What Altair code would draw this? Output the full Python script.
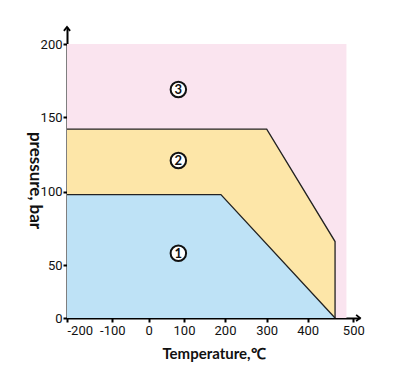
import altair as alt
import pandas as pd

# Region boundaries
r1_x = [-200, 190, 460]
r1_y = [98, 98, 0]
r2_x = [-200, 300, 460]
r2_y = [142, 142, 66]
upper_x = [-200, 300, 460, 460]
upper_y = [142, 142, 66, 0]
lower_x = [-200, 190, 460]
lower_y = [98, 98, 0]
r3_x = [-200, 485]
r3_y = [200, 200]
label_txt = ["1", "2", "3"]
label_x = [84, 84, 84]
label_y = [58, 121, 169]
x_ticks = [-200, -100, 0, 100, 200, 300, 400, 500]
y_ticks = [0, 50, 100, 150, 200]

# the printed axes are not evenly spaced; piecewise scales follow the tick marks
xs = alt.Scale(domain=[-200, -100, 0, 100, 200, 300, 400, 500, 525],
               range=[0, 45.3, 81.7, 117, 158, 199.7, 240.7, 286.3, 293], nice=False, zero=False)
ys = alt.Scale(domain=[0, 50, 100, 150, 200, 210],
               range=[291, 238, 164.7, 90.3, 17, 0], nice=False, zero=False)

LF = "Liberation Sans Narrow, Roboto, sans-serif"
TF = "Lato, Open Sans, sans-serif"

xax = alt.Axis(values=x_ticks, grid=False, domainColor="black", domainWidth=2,
               tickColor="black", tickWidth=2, tickSize=4, labelFont=LF,
               labelFontSize=13, labelColor="#111", labelPadding=2,
               labelExpr="'' + datum.value",
               title="Temperature,℃", titleFont=TF, titleFontSize=15,
               titleFontWeight="bold", titleColor="#111", titlePadding=9)
yax = alt.Axis(values=y_ticks, grid=False, domainColor="black", domainWidth=2,
               tickColor="black", tickWidth=2, tickSize=4, labelFont=LF,
               labelFontSize=13, labelColor="#111", labelPadding=1,
               title="pressure, bar", titleFont=TF, titleFontSize=17,
               titleFontWeight="bold", titleColor="#111", titleAngle=90,
               titleX=-33, titleY=153, titleAlign="center", titleBaseline="middle")

d3 = pd.DataFrame({"x": r3_x, "y": r3_y})
pink = alt.Chart(d3).mark_area(color="#fae4ef", opacity=1).encode(
    x=alt.X("x:Q", scale=xs, axis=xax), y=alt.Y("y:Q", scale=ys, axis=yax), y2=alt.datum(0))

d2 = pd.DataFrame({"x": r2_x, "y": r2_y})
yellow = alt.Chart(d2).mark_area(color="#fde6a8", opacity=1).encode(
    x=alt.X("x:Q", scale=xs), y=alt.Y("y:Q", scale=ys), y2=alt.datum(0))

d1 = pd.DataFrame({"x": r1_x, "y": r1_y})
blue = alt.Chart(d1).mark_area(color="#bee2f6", opacity=1).encode(
    x=alt.X("x:Q", scale=xs), y=alt.Y("y:Q", scale=ys), y2=alt.datum(0))

du = pd.DataFrame({"x": upper_x, "y": upper_y, "o": list(range(len(upper_x)))})
uline = alt.Chart(du).mark_line(color="#222", strokeWidth=1.3).encode(
    x=alt.X("x:Q", scale=xs), y=alt.Y("y:Q", scale=ys), order="o:Q")

dl = pd.DataFrame({"x": lower_x, "y": lower_y, "o": list(range(len(lower_x)))})
lline = alt.Chart(dl).mark_line(color="#222", strokeWidth=1.3).encode(
    x=alt.X("x:Q", scale=xs), y=alt.Y("y:Q", scale=ys), order="o:Q")

dlab = pd.DataFrame({"t": label_txt, "x": label_x, "y": label_y})
circ = alt.Chart(dlab).mark_point(shape="circle", filled=True, fill="white", stroke="#111",
                                  strokeWidth=2, size=240, opacity=1).encode(
    x=alt.X("x:Q", scale=xs), y=alt.Y("y:Q", scale=ys))
txt = alt.Chart(dlab).mark_text(font=TF, fontSize=13, fontWeight="bold", color="#111", dy=0.5).encode(
    x=alt.X("x:Q", scale=xs), y=alt.Y("y:Q", scale=ys), text="t:N")

arr = pd.DataFrame({"x": [525], "y": [0]})
arrow_x = alt.Chart(arr).mark_point(shape="M-1,-0.8L0,0L-1,0.8", filled=False, stroke="black",
                                     strokeWidth=1.8, size=60, opacity=1).encode(
    x=alt.X("x:Q", scale=xs), y=alt.Y("y:Q", scale=ys))
arr2 = pd.DataFrame({"x": [-200], "y": [210]})
arrow_y = alt.Chart(arr2).mark_point(shape="M-0.8,1L0,0L0.8,1", filled=False, stroke="black",
                                      strokeWidth=1.8, size=60, opacity=1).encode(
    x=alt.X("x:Q", scale=xs), y=alt.Y("y:Q", scale=ys))

chart = alt.layer(pink, yellow, blue, uline, lline, circ, txt, arrow_x, arrow_y).properties(
    width=293, height=291,
    background="white",
    autosize=alt.AutoSizeParams(type="none"),
    padding={"left": 59, "top": 19, "right": 24, "bottom": 60},
).configure_view(stroke=None)

chart.save("out.html", embed_options={"renderer": "svg", "actions": False})
